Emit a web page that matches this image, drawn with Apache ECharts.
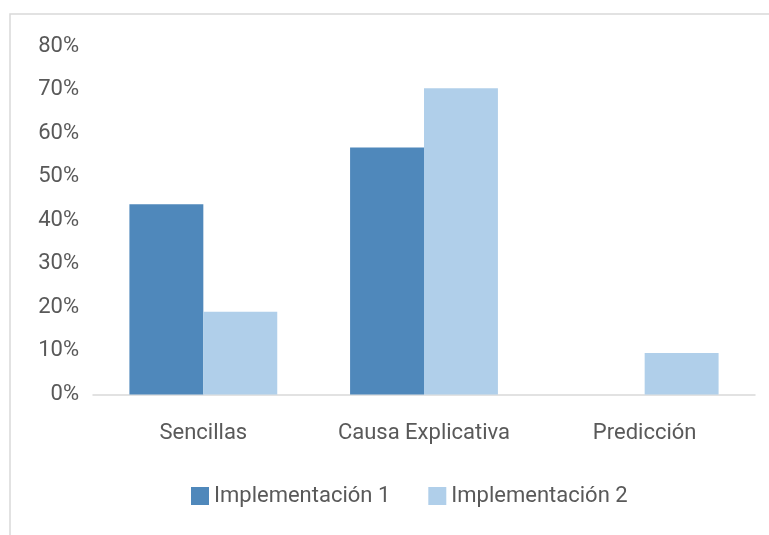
<!DOCTYPE html>
<html>
<head>
<meta charset="utf-8">
<script src="https://cdn.jsdelivr.net/npm/echarts@6/dist/echarts.min.js"></script>
<style>
  html, body { margin: 0; padding: 0; background: #fff; }
  #chart { width: 769px; height: 535px; }
</style>
</head>
<body>
<div id="chart"></div>
<script>
const categories = ["Sencillas", "Causa Explicativa", "Predicción"];
const impl1 = [43.7, 56.7, 0];
const impl2 = [19.0, 70.3, 9.5];
const yTicks = [0, 10, 20, 30, 40, 50, 60, 70, 80];

const textColor = "#595959";
const font = "'Roboto', sans-serif";

let myEcharts = echarts.init(document.getElementById("chart"));
let option = {
  animation: false,
  textStyle: { fontFamily: font },
  graphic: [
    {
      type: "rect",
      shape: { x: 10, y: 14, width: 800, height: 600 },
      style: { fill: "none", stroke: "#d9d9d9", lineWidth: 1.5 },
      silent: true
    }
  ],
  grid: { left: 93, right: 14, top: 46, bottom: 140.5 },
  legend: {
    bottom: 23,
    left: 186,
    itemWidth: 18,
    itemHeight: 18,
    itemGap: 38,
    icon: "rect",
    textStyle: { color: textColor, fontSize: 22, fontFamily: font }
  },
  xAxis: {
    type: "category",
    data: categories,
    axisTick: { show: false },
    axisLine: { lineStyle: { color: "#d9d9d9", width: 1.5 } },
    axisLabel: { color: textColor, fontSize: 22, margin: 28, interval: 0 }
  },
  yAxis: {
    type: "value",
    min: yTicks[0],
    max: yTicks[yTicks.length - 1],
    interval: 10,
    axisLine: { show: false },
    axisTick: { show: false },
    splitLine: { show: false },
    axisLabel: { color: textColor, fontSize: 22, margin: 14, formatter: "{value}%" }
  },
  series: [
    {
      name: "Implementación 1",
      type: "bar",
      data: impl1,
      color: "#4f88bb",
      barGap: "0%",
      barCategoryGap: "33%"
    },
    {
      name: "Implementación 2",
      type: "bar",
      data: impl2,
      color: "#b0cfea"
    }
  ]
};
myEcharts.setOption(option);
</script>
</body>
</html>
